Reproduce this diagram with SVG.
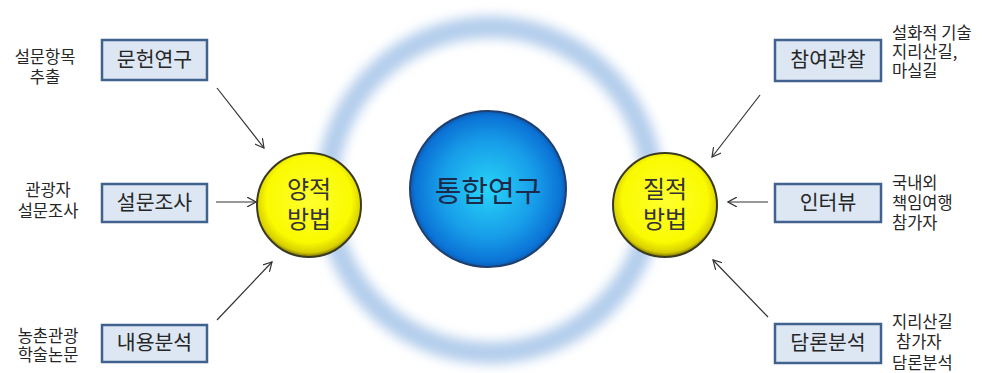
<svg xmlns="http://www.w3.org/2000/svg" width="985" height="373" viewBox="0 0 985 373">
<defs>
<style>
text{font-family:"Noto Sans CJK KR","Noto Sans",sans-serif;fill:#262626}
.box{fill:#dde7f3;stroke:#41618f;stroke-width:2.5}
.bt{font-size:20.5px;text-anchor:middle}
.lbl{font-size:16.5px}
.lc{text-anchor:middle}
.arr{stroke:#333;stroke-width:1.2;fill:none;marker-end:url(#ah)}
.yc{fill:url(#yg);stroke:#3a3a20;stroke-width:2}
.yt{font-size:24px;text-anchor:middle;fill:#333}
</style>
<marker id="ah" viewBox="0 0 10 10" refX="9" refY="5" markerWidth="10" markerHeight="10" markerUnits="userSpaceOnUse" orient="auto">
<path d="M0,0 L9,5 L0,10" fill="none" stroke="#333" stroke-width="1.2"/>
</marker>
<radialGradient id="yg" cx="50%" cy="45%" r="55%">
<stop offset="0" stop-color="#ffff30"/>
<stop offset="0.75" stop-color="#fafa00"/>
<stop offset="0.92" stop-color="#d8d000"/>
<stop offset="1" stop-color="#7a7000"/>
</radialGradient>
<radialGradient id="bg" cx="50%" cy="50%" r="52%">
<stop offset="0" stop-color="#28d4f8"/>
<stop offset="0.6" stop-color="#179ce8"/>
<stop offset="0.9" stop-color="#0b73d6"/>
<stop offset="1" stop-color="#0a4e9a"/>
</radialGradient>
<filter id="blur" x="-20%" y="-20%" width="140%" height="140%">
<feGaussianBlur stdDeviation="6"/>
</filter>
</defs>
<rect width="985" height="373" fill="#fff"/>
<circle cx="490" cy="190" r="163" fill="none" stroke="#b3cdec" stroke-width="22" filter="url(#blur)"/>

<g id="center">
<circle cx="488" cy="189" r="78" fill="url(#bg)" stroke="#1f3f70" stroke-width="2"/>
<text x="488" y="202" style="font-size:29px;text-anchor:middle;fill:#1c2a4a">통합연구</text>
</g>
<g id="quant">
<circle class="yc" cx="309" cy="205" r="52"/>
<text class="yt" x="309" y="198">양적</text>
<text class="yt" x="309" y="228">방법</text>
</g>
<g id="qual">
<circle class="yc" cx="665" cy="205" r="52"/>
<text class="yt" x="665" y="198">질적</text>
<text class="yt" x="665" y="228">방법</text>
</g>

<g id="lit">
<rect class="box" x="102" y="40" width="105" height="40"/>
<text class="bt" x="154.5" y="67">문헌연구</text>
<text class="lbl lc" x="45" y="63">설문항목</text>
<text class="lbl lc" x="45" y="83">추출</text>
</g>
<g id="survey">
<rect class="box" x="102" y="184" width="105" height="38"/>
<text class="bt" x="154.5" y="210">설문조사</text>
<text class="lbl lc" x="48" y="196">관광자</text>
<text class="lbl lc" x="48" y="217">설문조사</text>
</g>
<g id="content">
<rect class="box" x="102" y="325" width="105" height="37"/>
<text class="bt" x="154.5" y="350">내용분석</text>
<text class="lbl lc" x="48" y="342">농촌관광</text>
<text class="lbl lc" x="48" y="361">학술논문</text>
</g>
<g id="obs">
<rect class="box" x="775" y="40" width="106" height="41"/>
<text class="bt" x="828" y="67">참여관찰</text>
<text class="lbl" x="892" y="39">설화적 기술</text>
<text class="lbl" x="892" y="58">지리산길,</text>
<text class="lbl" x="892" y="77">마실길</text>
</g>
<g id="interview">
<rect class="box" x="775" y="184" width="106" height="38"/>
<text class="bt" x="828" y="210">인터뷰</text>
<text class="lbl" x="892" y="189">국내외</text>
<text class="lbl" x="892" y="209">책임여행</text>
<text class="lbl" x="892" y="229">참가자</text>
</g>
<g id="discourse">
<rect class="box" x="775" y="324" width="106" height="39"/>
<text class="bt" x="828" y="350">담론분석</text>
<text class="lbl" x="892" y="328">지리산길</text>
<text class="lbl" x="896" y="348">참가자</text>
<text class="lbl" x="892" y="369">담론분석</text>
</g>

<g id="connectors">
<line class="arr" x1="217" y1="88" x2="264" y2="148"/>
<line class="arr" x1="216" y1="202" x2="256" y2="202"/>
<line class="arr" x1="217" y1="320" x2="272" y2="262"/>
<line class="arr" x1="760" y1="95" x2="712" y2="157"/>
<line class="arr" x1="768" y1="202" x2="728" y2="202"/>
<line class="arr" x1="768" y1="317" x2="713" y2="260"/>
</g>
</svg>
